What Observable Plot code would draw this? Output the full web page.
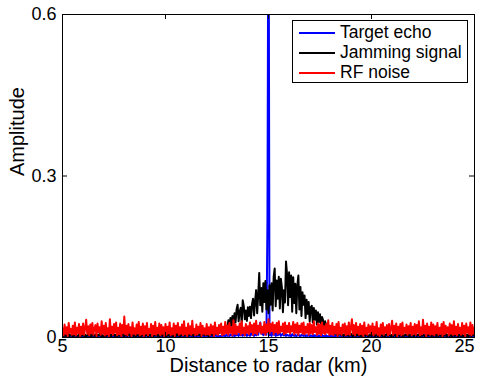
<!DOCTYPE html>
<html><head><meta charset="utf-8">
<script src="https://cdn.jsdelivr.net/npm/d3@7"></script>
<script src="https://cdn.jsdelivr.net/npm/@observablehq/plot@0.6"></script>
<style>
body{margin:0;background:#fff;}
#wrap{position:relative;width:483px;height:386px;font-family:"Liberation Sans",Arial,sans-serif;}
#legend{position:absolute;left:292px;top:20px;width:176px;height:63px;border:1px solid #000;background:#fff;box-sizing:border-box;}
.row{position:absolute;left:0;height:20px;display:flex;align-items:center;font-size:17.5px;white-space:nowrap;color:#000;}
.sw{width:36px;height:0;border-top:2px solid;margin-left:6px;margin-right:5px;}
</style></head>
<body><div id="wrap"></div>
<script>
const distanceStart = 5;
const distanceStep = 0.05;
const xTicks = [5, 10, 15, 20, 25];
const yTicks = [0, 0.3, 0.6];
const seriesNames = ["Target echo", "Jamming signal", "RF noise"];
const seriesColors = ["#0000ff", "#000000", "#ff0000"];

const targetEcho = [
0.002,0.004,0.001,0.003,0.002,0.005,0.001,0.003,0.004,0.002,0.001,0.003,0.005,0.002,0.003,0.001,0.004,0.002,0.003,0.001,
0.003,0.001,0.004,0.002,0.003,0.001,0.005,0.002,0.001,0.004,0.002,0.003,0.001,0.004,0.002,0.003,0.005,0.001,0.002,0.004,
0.001,0.003,0.002,0.004,0.001,0.003,0.002,0.005,0.003,0.001,0.004,0.002,0.001,0.003,0.005,0.002,0.001,0.004,0.003,0.002,
0.004,0.002,0.001,0.003,0.005,0.002,0.003,0.001,0.004,0.002,0.003,0.001,0.002,0.004,0.001,0.003,0.002,0.005,0.001,0.003,
0.002,0.003,0.004,0.001,0.002,0.005,0.003,0.001,0.002,0.004,0.001,0.003,0.005,0.002,0.001,0.004,0.003,0.002,0.001,0.003,
0.003,0.001,0.002,0.004,0.003,0.001,0.005,0.002,0.003,0.001,0.004,0.002,0.001,0.003,0.002,0.004,0.001,0.003,0.005,0.002,
0.001,0.004,0.002,0.003,0.001,0.005,0.002,0.004,0.001,0.003,0.002,0.001,0.004,0.003,0.002,0.005,0.001,0.003,0.002,0.004,
0.003,0.002,0.005,0.001,0.004,0.002,0.003,0.001,0.005,0.003,0.002,0.004,0.001,0.003,0.002,0.006,0.003,0.004,0.002,0.005,
0.003,0.005,0.002,0.006,0.004,0.003,0.007,0.002,0.005,0.004,0.006,0.003,0.008,0.004,0.005,0.003,0.007,0.004,0.009,0.003,
0.004,0.008,0.003,0.010,0.005,0.006,0.003,0.012,0.004,0.009,0.005,0.018,0.028,0.007,0.011,0.004,0.008,0.015,0.005,0.220,
0.950,0.004,0.009,0.003,0.012,0.005,0.007,0.003,0.010,0.004,0.006,0.008,0.003,0.005,0.007,0.004,0.006,0.003,0.005,0.004,
0.003,0.005,0.002,0.006,0.004,0.003,0.005,0.002,0.004,0.006,0.003,0.002,0.005,0.004,0.003,0.006,0.002,0.004,0.003,0.005,
0.002,0.004,0.003,0.001,0.005,0.002,0.004,0.003,0.001,0.004,0.002,0.003,0.005,0.001,0.003,0.002,0.004,0.001,0.003,0.002,
0.004,0.001,0.003,0.002,0.005,0.001,0.003,0.004,0.002,0.001,0.003,0.005,0.002,0.004,0.001,0.003,0.002,0.004,0.003,0.001,
0.002,0.003,0.001,0.004,0.002,0.005,0.003,0.001,0.004,0.002,0.003,0.001,0.002,0.005,0.003,0.002,0.004,0.001,0.003,0.002,
0.005,0.002,0.004,0.001,0.003,0.002,0.004,0.003,0.001,0.005,0.002,0.003,0.001,0.004,0.002,0.001,0.003,0.005,0.002,0.004,
0.001,0.003,0.002,0.005,0.001,0.004,0.002,0.003,0.004,0.001,0.003,0.002,0.005,0.003,0.001,0.004,0.002,0.003,0.001,0.004,
0.003,0.001,0.004,0.002,0.003,0.005,0.001,0.002,0.004,0.003,0.001,0.005,0.002,0.003,0.004,0.001,0.002,0.004,0.003,0.002,
0.004,0.002,0.001,0.003,0.005,0.002,0.003,0.001,0.004,0.002,0.003,0.004,0.001,0.002,0.005,0.003,0.001,0.004,0.002,0.003,
0.002,0.004,0.003,0.001,0.002,0.005,0.001,0.003,0.004,0.002,0.001,0.003,0.002,0.005,0.003,0.001,0.004,0.002,0.003,0.002,
0.003
];

const jammingSignal = [
0.004,0.002,0.006,0.003,0.005,0.002,0.007,0.003,0.004,0.006,0.002,0.005,0.003,0.006,0.004,0.002,0.005,0.007,0.003,0.004,
0.006,0.003,0.005,0.002,0.004,0.007,0.003,0.005,0.002,0.006,0.004,0.003,0.006,0.002,0.005,0.004,0.007,0.003,0.005,0.002,
0.003,0.005,0.002,0.006,0.004,0.003,0.007,0.002,0.005,0.004,0.006,0.003,0.005,0.002,0.004,0.006,0.003,0.007,0.004,0.005,
0.002,0.006,0.004,0.003,0.005,0.007,0.002,0.004,0.006,0.003,0.005,0.002,0.007,0.004,0.003,0.006,0.002,0.005,0.004,0.006,
0.003,0.005,0.007,0.002,0.004,0.006,0.003,0.005,0.002,0.007,0.004,0.006,0.003,0.005,0.002,0.004,0.007,0.003,0.006,0.004,
0.005,0.002,0.006,0.004,0.003,0.007,0.005,0.002,0.004,0.006,0.003,0.008,0.004,0.005,0.002,0.006,0.004,0.007,0.003,0.005,
0.004,0.006,0.003,0.005,0.008,0.004,0.006,0.003,0.007,0.005,0.004,0.008,0.005,0.006,0.003,0.007,0.005,0.009,0.004,0.006,
0.004,0.006,0.003,0.007,0.005,0.008,0.004,0.009,0.006,0.010,0.007,0.012,0.008,0.014,0.009,0.013,0.011,0.016,0.012,0.020,
0.018,0.032,0.015,0.036,0.022,0.040,0.019,0.045,0.028,0.052,0.061,0.030,0.048,0.055,0.025,0.069,0.058,0.034,0.050,0.031,
0.056,0.040,0.057,0.036,0.062,0.072,0.041,0.068,0.088,0.045,0.079,0.120,0.060,0.092,0.048,0.101,0.066,0.105,0.052,0.088,
0.045,0.097,0.061,0.101,0.050,0.112,0.128,0.058,0.106,0.072,0.113,0.054,0.109,0.093,0.047,0.088,0.065,0.141,0.118,0.060,
0.121,0.075,0.115,0.048,0.112,0.064,0.100,0.045,0.097,0.115,0.052,0.094,0.040,0.084,0.061,0.078,0.036,0.070,0.044,0.066,
0.030,0.056,0.059,0.028,0.055,0.033,0.050,0.024,0.047,0.029,0.043,0.020,0.038,0.032,0.017,0.030,0.014,0.026,0.012,0.022,
0.010,0.019,0.008,0.016,0.007,0.013,0.005,0.011,0.004,0.008,
0.007,0.004,0.006,0.003,0.005,0.008,0.004,0.006,0.003,0.005,0.007,0.004,0.002,0.006,0.005,0.003,0.007,0.004,0.006,0.003,
0.005,0.002,0.006,0.004,0.003,0.007,0.005,0.002,0.004,0.006,0.003,0.005,0.007,0.002,0.004,0.006,0.003,0.005,0.002,0.006,
0.004,0.003,0.006,0.002,0.005,0.007,0.003,0.004,0.006,0.002,0.005,0.003,0.007,0.004,0.002,0.006,0.005,0.003,0.004,0.006,
0.002,0.005,0.003,0.006,0.004,0.007,0.002,0.005,0.003,0.006,0.004,0.002,0.005,0.007,0.003,0.004,0.006,0.002,0.005,0.003,
0.006,0.004,0.002,0.005,0.003,0.007,0.004,0.006,0.002,0.005,0.003,0.004,0.006,0.002,0.007,0.003,0.005,0.004,0.002,0.006,
0.003,0.005,0.007,0.002,0.004,0.006,0.003,0.005,0.002,0.006,0.004,0.003,0.005,0.007,0.002,0.004,0.006,0.003,0.005,0.002,
0.004,0.006,0.003,0.005,0.002,0.007,0.004,0.003,0.006,0.004,0.005
];

const rfNoise = [
0.017,0.004,0.024,0.007,0.019,0.003,0.027,0.009,0.016,0.005,0.022,0.006,0.028,0.004,0.018,0.008,0.025,0.003,0.020,0.006,
0.026,0.005,0.017,0.033,0.007,0.021,0.004,0.024,0.008,0.027,0.005,0.016,0.023,0.003,0.026,0.010,0.019,0.005,0.030,0.007,
0.022,0.004,0.027,0.006,0.017,0.003,0.034,0.008,0.020,0.005,0.025,0.009,0.028,0.004,0.018,0.006,0.026,0.003,0.023,0.008,
0.039,0.006,0.022,0.004,0.025,0.009,0.019,0.003,0.028,0.007,0.017,0.005,0.024,0.008,0.029,0.004,0.020,0.006,0.026,0.003,
0.021,0.007,0.027,0.004,0.016,0.009,0.025,0.003,0.022,0.006,0.029,0.005,0.018,0.008,0.026,0.004,0.023,0.007,0.019,0.003,
0.025,0.005,0.020,0.008,0.028,0.004,0.017,0.006,0.026,0.003,0.022,0.009,0.027,0.005,0.019,0.007,0.024,0.004,0.030,0.006,
0.018,0.003,0.026,0.007,0.021,0.005,0.031,0.008,0.016,0.004,0.024,0.006,0.020,0.009,0.027,0.003,0.022,0.007,0.017,0.005,
0.025,0.006,0.019,0.004,0.024,0.008,0.021,0.003,0.028,0.007,0.018,0.005,0.023,0.009,0.026,0.004,0.020,0.006,0.029,0.008,
0.022,0.005,0.027,0.009,0.019,0.004,0.032,0.007,0.024,0.006,0.020,0.010,0.026,0.005,0.030,0.008,0.018,0.004,0.025,0.009,
0.021,0.006,0.028,0.010,0.023,0.005,0.026,0.008,0.031,0.006,0.022,0.011,0.027,0.007,0.020,0.009,0.029,0.005,0.024,0.010,
0.034,0.008,0.025,0.012,0.028,0.006,0.023,0.010,0.027,0.007,0.030,0.009,0.020,0.011,0.026,0.006,0.028,0.008,0.022,0.010,
0.027,0.007,0.021,0.011,0.029,0.006,0.024,0.009,0.027,0.005,0.022,0.010,0.026,0.007,0.028,0.006,0.020,0.009,0.025,0.005,
0.027,0.008,0.023,0.006,0.030,0.010,0.019,0.005,0.026,0.007,0.024,0.004,0.028,0.008,0.021,0.006,0.025,0.009,0.032,0.005,
0.022,0.006,0.027,0.004,0.020,0.008,0.025,0.003,0.029,0.007,0.018,0.005,0.024,0.009,0.026,0.004,0.021,0.006,0.028,0.005,
0.019,0.034,0.007,0.023,0.004,0.027,0.008,0.020,0.005,0.025,0.006,0.022,0.003,0.028,0.007,0.018,0.005,0.024,0.009,0.021,
0.006,0.026,0.004,0.020,0.008,0.029,0.005,0.017,0.003,0.024,0.007,0.027,0.005,0.019,0.009,0.023,0.004,0.025,0.006,0.018,
0.031,0.005,0.022,0.008,0.026,0.003,0.020,0.007,0.025,0.004,0.028,0.006,0.018,0.009,0.024,0.005,0.021,0.008,0.027,0.004,
0.020,0.007,0.025,0.005,0.023,0.009,0.030,0.004,0.019,0.006,0.033,0.008,0.022,0.003,0.026,0.007,0.020,0.005,0.028,0.006,
0.024,0.004,0.021,0.008,0.027,0.005,0.018,0.007,0.025,0.003,0.029,0.006,0.022,0.009,0.019,0.004,0.026,0.007,0.023,0.005,
0.030,0.006,0.020,0.004,0.025,0.008,0.018,0.005,0.027,0.007,0.022,0.003,0.026,0.009,0.019,0.006,0.028,0.004,0.023,0.007,
0.018
];

const distance = rfNoise.map((_, i) => distanceStart + i * distanceStep);
const toRows = (values) => values.map((a, i) => ({distance: distance[i], amplitude: a}));
const seriesValues = [targetEcho, jammingSignal, rfNoise];

const chart = Plot.plot({
  width: 483, height: 386,
  marginLeft: 62, marginRight: 9, marginTop: 14, marginBottom: 49,
  style: {fontFamily: "'Liberation Sans', Arial, sans-serif", fontSize: "18px", background: "white", color: "black"},
  x: {domain: [5, 25]},
  y: {domain: [0, 0.6]},
  marks: [
    ...seriesValues.map((vals, k) => Plot.lineY(toRows(vals), {x: "distance", y: "amplitude", stroke: seriesColors[k], strokeWidth: 2, clip: true})),
    Plot.tickX(xTicks, {x: d => d, insetTop: 318, stroke: "black"}),
    Plot.tickX(xTicks, {x: d => d, insetBottom: 318, stroke: "black"}),
    Plot.tickY(yTicks, {y: d => d, insetRight: 407, stroke: "black"}),
    Plot.tickY(yTicks, {y: d => d, insetLeft: 407, stroke: "black"}),
    Plot.frame({stroke: "black"}),
    Plot.axisX(xTicks.slice(0, -1), {tickSize: 0, tickPadding: 2, label: null, tickFormat: d => String(d)}),
    Plot.axisX(xTicks.slice(-1), {tickSize: 0, tickPadding: 2, label: null, textAnchor: "end", tickFormat: d => String(d)}),
    Plot.axisY(yTicks, {tickSize: 0, tickPadding: 6, label: null, tickFormat: d => String(d)}),
    Plot.text(["Distance to radar (km)"], {text: d => d, frameAnchor: "bottom", dy: 34, fontSize: 20}),
    Plot.text(["Amplitude"], {text: d => d, frameAnchor: "left", dx: -45, rotate: -90, fontSize: 20})
  ]
});
const wrap = document.getElementById("wrap");
wrap.appendChild(chart);

const legend = document.createElement("div");
legend.id = "legend";
const rowTops = [1.5, 21.5, 41.5];
seriesNames.forEach((name, k) => {
  const row = document.createElement("div");
  row.className = "row";
  row.style.top = rowTops[k] + "px";
  const sw = document.createElement("span");
  sw.className = "sw";
  sw.style.borderTopColor = seriesColors[k];
  const label = document.createElement("span");
  label.textContent = name;
  row.appendChild(sw);
  row.appendChild(label);
  legend.appendChild(row);
});
wrap.appendChild(legend);
</script>
</body></html>
